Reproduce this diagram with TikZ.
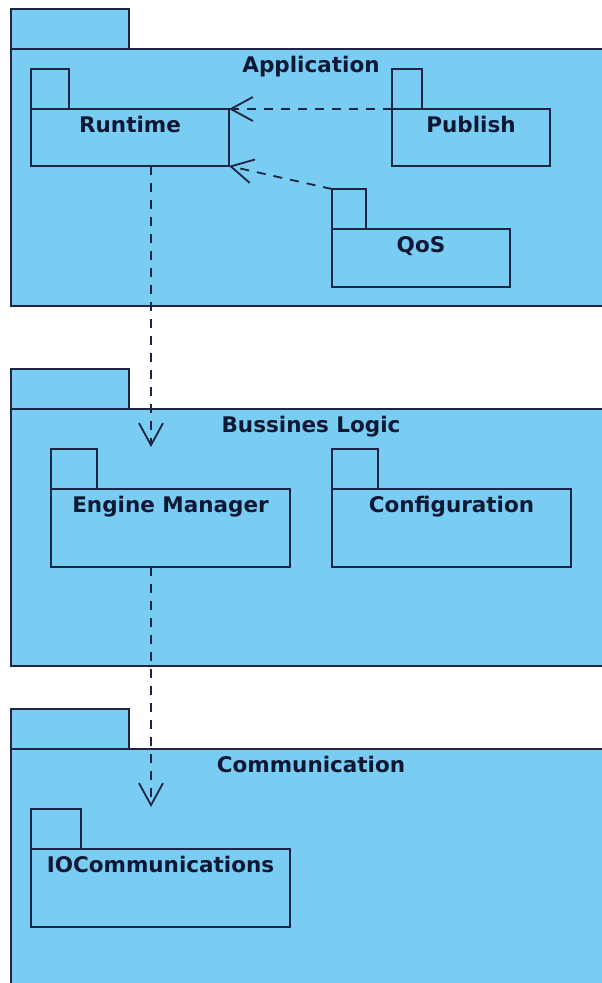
\documentclass[tikz,border=0pt]{standalone}
\usepackage{fontspec}
\setmainfont{DejaVu Sans}
\usetikzlibrary{arrows.meta,calc}
\definecolor{pkgfill}{RGB}{121,205,242}
\definecolor{pkgline}{RGB}{28,38,66}
\definecolor{pkgtext}{RGB}{14,24,52}
\begin{document}
\begin{tikzpicture}[x=1pt,y=-1pt,
  pkgbox/.style={draw=pkgline,fill=pkgfill,line width=2pt,rectangle,inner sep=0pt,outer sep=0pt,anchor=north west},
  pkglabel/.style={text=pkgtext,font=\bfseries\fontsize{21.5}{24}\selectfont,anchor=base,inner sep=0pt},
  dep/.style={draw=pkgline,line width=1.8pt,dash pattern=on 9pt off 8pt,-{Straight Barb[length=22pt,width=24pt,line width=1.8pt]}}]
\useasboundingbox (0,0) rectangle (602,983);
\clip (0,0) rectangle (602,983);
% ---------- Application ----------
\node[pkgbox,minimum width=118pt,minimum height=40pt] (apptab) at (11,9) {};
\node[pkgbox,minimum width=600pt,minimum height=257pt] (app) at (11,49) {};
\node[pkglabel] (applbl) at (311,72) {Application};
% Runtime
\node[pkgbox,minimum width=38pt,minimum height=40pt] (rttab) at (31,69) {};
\node[pkgbox,minimum width=198pt,minimum height=57pt] (rt) at (31,109) {};
\node[pkglabel] (rtlbl) at ($(rt.north)+(0,23)$) {Runtime};
% Publish
\node[pkgbox,minimum width=30pt,minimum height=40pt] (pubtab) at (392,69) {};
\node[pkgbox,minimum width=158pt,minimum height=57pt] (pub) at (392,109) {};
\node[pkglabel] (publbl) at ($(pub.north)+(0,23)$) {Publish};
% QoS
\node[pkgbox,minimum width=34pt,minimum height=40pt] (qostab) at (332,189) {};
\node[pkgbox,minimum width=178pt,minimum height=58pt] (qos) at (332,229) {};
\node[pkglabel] (qoslbl) at ($(qos.north)+(0,23)$) {QoS};
% ---------- Bussines Logic ----------
\node[pkgbox,minimum width=118pt,minimum height=40pt] (bltab) at (11,369) {};
\node[pkgbox,minimum width=600pt,minimum height=257pt] (bl) at (11,409) {};
\node[pkglabel] (bllbl) at (311,432) {Bussines Logic};
% Engine Manager
\node[pkgbox,minimum width=46pt,minimum height=40pt] (emtab) at (51,449) {};
\node[pkgbox,minimum width=239pt,minimum height=78pt] (em) at (51,489) {};
\node[pkglabel] (emlbl) at ($(em.north)+(0,23)$) {Engine Manager};
% Configuration
\node[pkgbox,minimum width=46pt,minimum height=40pt] (cftab) at (332,449) {};
\node[pkgbox,minimum width=239pt,minimum height=78pt] (cf) at (332,489) {};
\node[pkglabel] (cflbl) at ($(cf.north)+(0,23)$) {Configuration};
% ---------- Communication ----------
\node[pkgbox,minimum width=118pt,minimum height=40pt] (cmtab) at (11,709) {};
\node[pkgbox,minimum width=600pt,minimum height=300pt] (cm) at (11,749) {};
\node[pkglabel] (cmlbl) at (311,772) {Communication};
% IOCommunications
\node[pkgbox,minimum width=50pt,minimum height=40pt] (iotab) at (31,809) {};
\node[pkgbox,minimum width=259pt,minimum height=78pt] (io) at (31,849) {};
\node[pkglabel] (iolbl) at ($(io.north)+(0,23)$) {IOCommunications};
% ---------- dependencies ----------
\coordinate (emtip) at (151,447);
\coordinate (iotip) at (151,807);
\draw[dep] (pub.north west) -- (rt.north east);
\draw[dep] (qostab.north west) -- (rt.south east);
\draw[dep] (rt.south -| emtip) -- (emtip);
\draw[dep] (em.south -| iotip) -- (iotip);
\end{tikzpicture}
\end{document}
